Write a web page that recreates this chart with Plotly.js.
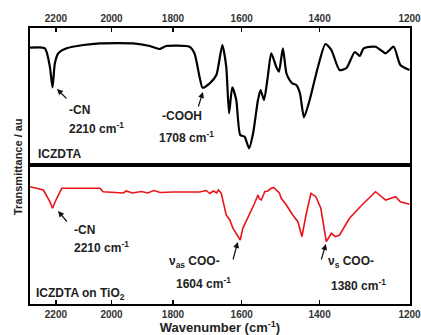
<!DOCTYPE html>
<html><head><meta charset="utf-8">
<script src="https://cdn.plot.ly/plotly-3.0.1.min.js"></script>
<style>html,body{margin:0;padding:0;background:#fff}#chart{width:421px;height:335px}</style>
</head><body><div id="chart"></div>
<script>
// Upper spectrum: ICZDTA
const wnUpper = [2300,2242,2223,2213,2204,2191,2160,2099,2040,1927,1873,1842,1821,1750,1735,1719,1711,1690,1671,1654,1643,1635,1626,1615,1604,1592,1580,1569,1556,1549,1540,1530,1521,1508,1501,1491,1482,1474,1467,1457,1448,1438,1424,1404,1386,1372,1353,1337,1318,1307,1298,1272,1250,1233,1219,1200];
const tUpper = [117.3,116.7,98.3,77.7,101.7,111.7,116.7,120,121.7,121.7,119,116,119,118.3,111.7,86.7,77.3,81.7,90,120,98.3,51.7,77.7,65,30,28.3,16.7,31.7,65,75,65,88.3,111.7,98.3,93.3,116.7,91.7,85,81.7,80,71.7,47.7,65,98,121,115,95,97,113,109,116.7,118.3,111.7,118.3,100,95];
// Lower spectrum: ICZDTA on TiO2
const wnLower = [2300,2248,2223,2213,2197,2178,2099,2040,2029,1960,1950,1930,1900,1880,1860,1840,1800,1760,1720,1700,1690,1680,1670,1665,1657,1643,1633,1624,1604,1597,1579,1565,1556,1552,1547,1538,1530,1521,1515,1508,1500,1495,1482,1466,1453,1443,1433,1421,1409,1397,1384,1372,1363,1353,1330,1302,1272,1250,1229,1219,1200];
const tLower = [118.3,115,103.3,96.7,106.7,116.7,116.7,116.7,113.3,112,114,112,113.5,112,114.5,112.5,113,112.7,113,114.5,111.5,114,112,115,111.7,90,85,76.7,65,76.7,90,101.7,110,106,105,113.3,114,116.7,117.5,115,112,106.7,100,90,83.3,68.3,90,111.7,108.3,96.7,63.3,71.7,68.3,70,86.7,100,113.3,105,108.3,103.3,100.7];
const tickVals = [2200,2000,1800,1600,1400,1200];
const tickText = ['2200','2000','1800','1600','1400','1200'];

const FONT = 'Liberation Sans, Arial, sans-serif';
const xr = [Math.log10(2300), Math.log10(1199)];
const split = (304-165)/276;

const traces = [
  {x: wnUpper, y: tUpper, xaxis:'x2', yaxis:'y2', type:'scatter', mode:'lines',
   line:{color:'#000', width:2.2, shape:'spline', smoothing:0.6}, hoverinfo:'skip'},
  {x: wnLower, y: tLower, xaxis:'x', yaxis:'y', type:'scatter', mode:'lines',
   line:{color:'#e8141a', width:1.6}, hoverinfo:'skip'}
];

function txt(t, px, py, size){
  return {text:t, xref:'paper', yref:'paper', x:(px-30)/380, y:(304-py)/276,
    xanchor:'left', yanchor:'middle', showarrow:false,
    font:{family:FONT, size:size||12, color:'#222', weight:700}};
}
function arr(wn, val, ax, ay, xref, yref){
  return {text:'', x:Math.log10(wn), y:val, xref:xref, yref:yref, ax:ax, ay:ay,
    showarrow:true, arrowhead:2, arrowsize:1, arrowwidth:1.2, arrowcolor:'#111'};
}

const annotations = [
  txt('-CN', 67, 110), txt('2210 cm<sup>-1</sup>', 67, 128),
  txt('-COOH', 160, 116), txt('1708 cm<sup>-1</sup>', 157, 137),
  txt('ICZDTA', 36, 154),
  txt('-CN', 72, 230), txt('2210 cm<sup>-1</sup>', 72, 247),
  txt('ν<sub>as</sub> COO-', 167, 262), txt('1604 cm<sup>-1</sup>', 174, 283),
  txt('ν<sub>s</sub> COO-', 326, 262), txt('1380 cm<sup>-1</sup>', 329, 285),
  txt('ICZDTA on TiO<sub>2</sub>', 34, 294),
  arr(2196, 76, 11, 11, 'x2', 'y2'),
  arr(1710, 73, -5, 16, 'x2', 'y2'),
  arr(2192, 94, 10, 12, 'x', 'y'),
  arr(1611, 63, -5, 19, 'x', 'y'),
  arr(1385, 61, -5, 17, 'x', 'y'),
  {text:'Transmittance / au', xref:'paper', yref:'paper', x:(18-30)/380, y:(304-167)/276,
   textangle:-90, showarrow:false, xanchor:'center', yanchor:'middle',
   font:{family:FONT, size:11, color:'#222', weight:700}}
];

const axisCommon = {type:'log', range:xr, tickmode:'array', tickvals:tickVals, ticktext:tickText,
  ticks:'inside', ticklen:4, tickwidth:1.5, tickcolor:'#000', ticklabeloverflow:'allow',
  showline:true, linecolor:'#000', linewidth:2, mirror:true, showgrid:false, zeroline:false,
  tickfont:{family:FONT, size:10, color:'#333', weight:700}, fixedrange:true};

const layout = {
  width:421, height:335, margin:{l:30, r:11, t:28, b:31},
  paper_bgcolor:'#fff', plot_bgcolor:'#fff', showlegend:false,
  xaxis: Object.assign({}, axisCommon, {anchor:'y', side:'bottom',
    title:{text:'Wavenumber (cm<sup>-1</sup>)', standoff:2, font:{family:FONT, size:13, color:'#222', weight:700}}}),
  xaxis2: Object.assign({}, axisCommon, {anchor:'y2', side:'top'}),
  yaxis: {domain:[0, split], range:[1,140], showticklabels:false, ticks:'', showgrid:false, zeroline:false,
    showline:true, linecolor:'#000', linewidth:2, mirror:true, fixedrange:true},
  yaxis2: {domain:[split, 1], range:[0,137], showticklabels:false, ticks:'', showgrid:false, zeroline:false,
    showline:true, linecolor:'#000', linewidth:2, mirror:true, fixedrange:true},
  annotations: annotations
};

Plotly.newPlot('chart', traces, layout, {displayModeBar:false, staticPlot:true});
</script></body></html>
